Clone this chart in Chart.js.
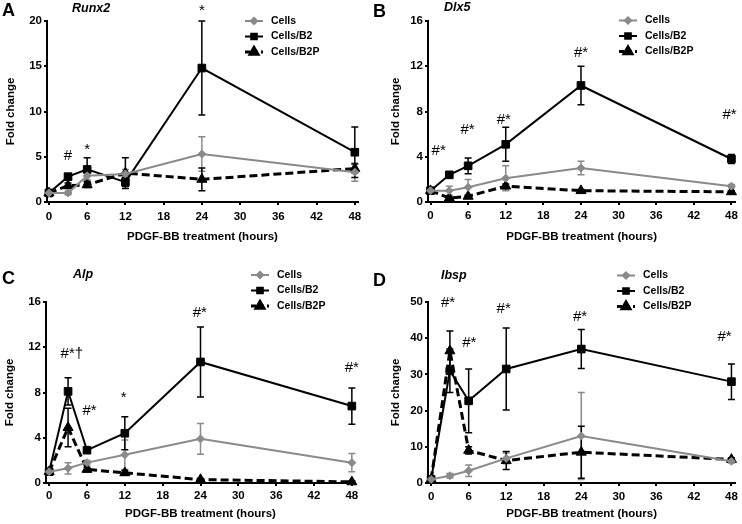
<!DOCTYPE html>
<html><head><meta charset="utf-8">
<script src="https://cdn.jsdelivr.net/npm/chart.js@4.4.0/dist/chart.umd.min.js"></script>
<style>
html,body{margin:0;padding:0;background:#fff;}
#wrap{position:relative;width:742px;height:524px;overflow:hidden;}
.panel{position:absolute;width:371px;height:262px;}
</style></head><body>
<div id="wrap">
<div class="panel" style="left:0;top:0"><canvas id="cA" width="371" height="262"></canvas></div>
<div class="panel" style="left:371px;top:0"><canvas id="cB" width="371" height="262"></canvas></div>
<div class="panel" style="left:0;top:262px"><canvas id="cC" width="371" height="262"></canvas></div>
<div class="panel" style="left:371px;top:262px"><canvas id="cD" width="371" height="262"></canvas></div>
</div>
<script>
// ---------- data ----------
const hours = [0, 3, 6, 12, 24, 48];
const xTicks = [0, 6, 12, 18, 24, 30, 36, 42, 48];
const seriesNames = ['Cells', 'Cells/B2', 'Cells/B2P'];
const xTitle = 'PDGF-BB treatment (hours)';
const yTitle = 'Fold change';
const panelLetters = ['A', 'B', 'C', 'D'];
const geneNames = ['Runx2', 'Dlx5', 'Alp', 'Ibsp'];

// Runx2
const runx2Ticks = [0, 5, 10, 15, 20];
const runx2Cells = [1.0, 1.0, 2.9, 3.1, 5.3, 3.3];
const runx2CellsSD = [0.1, 0.2, 0.4, 0.5, 1.9, 1.0];
const runx2B2 = [1.0, 2.8, 3.6, 2.2, 14.8, 5.5];
const runx2B2SD = [0.1, 0.3, 1.3, 0.5, 5.2, 2.8];
const runx2B2P = [1.0, 1.8, 1.9, 3.2, 2.5, 3.7];
const runx2B2PSD = [0.1, 0.3, 0.3, 1.7, 1.25, 0.5];
const runx2MarkText = ['#', '*', '*'];
const runx2MarkX = [3, 6, 24];
const runx2MarkY = [5.1, 5.8, 21.1];

// Dlx5
const dlx5Ticks = [0, 4, 8, 12, 16];
const dlx5Cells = [1.0, 1.0, 1.3, 2.1, 3.0, 1.4];
const dlx5CellsSD = [0.1, 0.4, 0.7, 1.1, 0.6, 0.15];
const dlx5B2 = [1.0, 2.4, 3.2, 5.1, 10.3, 3.8];
const dlx5B2SD = [0.1, 0.15, 0.7, 1.5, 1.7, 0.4];
const dlx5B2P = [1.0, 0.35, 0.5, 1.4, 1.0, 0.9];
const dlx5B2PSD = [0.1, 0.1, 0.1, 0.2, 0.1, 0.1];
const dlx5MarkText = ['#*', '#*', '#*', '#*', '#*'];
const dlx5MarkX = [1.3, 5.9, 11.7, 24, 47.7];
const dlx5MarkY = [4.5, 6.4, 7.3, 13.2, 7.7];

// Alp
const alpTicks = [0, 4, 8, 12, 16];
const alpCells = [1.0, 1.3, 1.8, 2.5, 3.9, 1.8];
const alpCellsSD = [0.1, 0.5, 0.2, 1.3, 1.35, 0.8];
const alpB2 = [1.0, 8.1, 2.9, 4.4, 10.7, 6.8];
const alpB2SD = [0.1, 1.2, 0.2, 1.45, 3.1, 1.6];
const alpB2P = [1.0, 4.9, 1.2, 0.9, 0.3, 0.1];
const alpB2PSD = [0.1, 1.7, 0.2, 0.2, 0.1, 0.1];
const alpMarkText = ['#*\u2020', '#*', '*', '#*', '#*'];
const alpMarkX = [3.6, 6.4, 11.8, 23.9, 48];
const alpMarkY = [11.4, 6.4, 7.5, 15.0, 10.2];

// Ibsp
const ibspTicks = [0, 10, 20, 30, 40, 50];
const ibspCells = [1.0, 2.0, 3.4, 6.8, 13.0, 6.0];
const ibspCellsSD = [0.2, 0.6, 1.6, 1.5, 12, 0.5];
const ibspB2 = [1.0, 31, 22.7, 31.5, 37, 28];
const ibspB2SD = [0.2, 6, 8.8, 11.3, 5.4, 4.9];
const ibspB2P = [1.0, 36.5, 9.0, 6.2, 8.5, 6.5];
const ibspB2PSD = [0.2, 5.5, 1.0, 2.5, 7.2, 0.5];
const ibspMarkText = ['#*', '#*', '#*', '#*', '#*'];
const ibspMarkX = [2.7, 6.1, 11.6, 23.8, 46.9];
const ibspMarkY = [49.8, 38.7, 48, 45.9, 40.3];

// ---------- styling / layout ----------
const FONT = "'Liberation Sans', Arial, Helvetica, sans-serif";
const GRAY = '#8a8a8a';
const W = 371, H = 262;
const seriesStyle = [
  {color: GRAY, width: 2, dash: [], point: 'rectRot', radius: 4, legRadius: 3.2},
  {color: '#000', width: 2, dash: [], point: 'rect', radius: 5.4, legRadius: 4},
  {color: '#000', width: 3, dash: [8, 4], point: 'triangle', radius: 5.8, legRadius: 4.5}
];
const layouts = [
  {left: 47, right: 358, top: 21, bottom: 202, xMin: -0.3, xMax: 48.5, yTitlePad: 4, xTickPad: 4.5, xTitlePad: 18, legTop: 21, legLeft: 245, letterY: 2, geneX: 72, geneY: 12},
  {left: 57, right: 366, top: 21, bottom: 202, xMin: -0.4, xMax: 48.6, yTitlePad: 18, xTickPad: 4, xTitlePad: 18, legTop: 20.5, legLeft: 248, letterY: 3, geneX: 73, geneY: 11},
  {left: 46, right: 355, top: 40, bottom: 221, xMin: -0.5, xMax: 48.5, yTitlePad: 3, xTickPad: 2.5, xTitlePad: 3.4, legTop: 13, legLeft: 251, letterY: 8, geneX: 73, geneY: 16},
  {left: 57, right: 366, top: 40, bottom: 221, xMin: -0.5, xMax: 48.6, yTitlePad: 18, xTickPad: 3.5, xTitlePad: 3.4, legTop: 13.5, legLeft: 246, letterY: 10, geneX: 70, geneY: 17}
];

const panels = [
  {id: 'cA', ticks: runx2Ticks, vals: [runx2Cells, runx2B2, runx2B2P], sds: [runx2CellsSD, runx2B2SD, runx2B2PSD], mt: runx2MarkText, mx: runx2MarkX, my: runx2MarkY},
  {id: 'cB', ticks: dlx5Ticks, vals: [dlx5Cells, dlx5B2, dlx5B2P], sds: [dlx5CellsSD, dlx5B2SD, dlx5B2PSD], mt: dlx5MarkText, mx: dlx5MarkX, my: dlx5MarkY},
  {id: 'cC', ticks: alpTicks, vals: [alpCells, alpB2, alpB2P], sds: [alpCellsSD, alpB2SD, alpB2PSD], mt: alpMarkText, mx: alpMarkX, my: alpMarkY},
  {id: 'cD', ticks: ibspTicks, vals: [ibspCells, ibspB2, ibspB2P], sds: [ibspCellsSD, ibspB2SD, ibspB2PSD], mt: ibspMarkText, mx: ibspMarkX, my: ibspMarkY}
];

const errorBarPlugin = {
  id: 'errbars',
  beforeDatasetsDraw(chart) {
    const ctx = chart.ctx, xs = chart.scales.x, ys = chart.scales.y;
    chart.data.datasets.forEach((ds) => {
      ctx.save();
      ctx.strokeStyle = ds.borderColor;
      ctx.lineWidth = 1.5;
      ds.data.forEach((p, j) => {
        const sd = ds.sd[j];
        const px = xs.getPixelForValue(p.x);
        const pt = ys.getPixelForValue(p.y + sd);
        const pb = ys.getPixelForValue(Math.max(0, p.y - sd));
        ctx.beginPath();
        ctx.moveTo(px, pt); ctx.lineTo(px, pb);
        ctx.moveTo(px - 3.5, pt); ctx.lineTo(px + 3.5, pt);
        ctx.moveTo(px - 3.5, pb); ctx.lineTo(px + 3.5, pb);
        ctx.stroke();
      });
      ctx.restore();
    });
  }
};

const decorPlugin = {
  id: 'decor',
  afterDraw(chart) {
    const o = chart.options.plugins.decor;
    const ctx = chart.ctx, xs = chart.scales.x, ys = chart.scales.y;
    ctx.save();
    // significance marks
    ctx.fillStyle = '#000';
    ctx.font = '15px ' + FONT;
    ctx.textAlign = 'center';
    ctx.textBaseline = 'middle';
    o.mt.forEach((t, k) => {
      ctx.fillText(t, xs.getPixelForValue(o.mx[k]), ys.getPixelForValue(o.my[k]));
    });
    // panel letter + gene
    ctx.textAlign = 'left';
    ctx.textBaseline = 'top';
    ctx.font = 'bold 18px ' + FONT;
    ctx.fillText(o.letter, 2, o.lay.letterY);
    ctx.textBaseline = 'alphabetic';
    ctx.font = 'italic bold 12.5px ' + FONT;
    ctx.fillText(o.gene, o.lay.geneX, o.lay.geneY);
    // legend
    chart.data.datasets.forEach((ds, i) => {
      const st = seriesStyle[i];
      const y = o.lay.legTop + i * 15.5;
      const x0 = o.lay.legLeft;
      ctx.save();
      ctx.strokeStyle = st.color;
      ctx.lineWidth = st.width;
      ctx.setLineDash(st.dash.length ? [5, 3] : []);
      ctx.beginPath();
      ctx.moveTo(x0, y); ctx.lineTo(x0 + 18, y);
      ctx.stroke();
      ctx.setLineDash([]);
      ctx.fillStyle = st.color;
      Chart.helpers.drawPoint(ctx, {pointStyle: st.point, radius: st.legRadius, rotation: 0, borderWidth: 1}, x0 + 9, y);
      ctx.restore();
      ctx.fillStyle = '#000';
      ctx.font = 'bold 10.5px ' + FONT;
      ctx.textAlign = 'left';
      ctx.textBaseline = 'middle';
      ctx.fillText(ds.label, x0 + 26, y);
    });
    ctx.restore();
  }
};

panels.forEach((p, pi) => {
  const lay = layouts[pi];
  const yTicks = p.ticks;
  const datasets = seriesNames.map((name, i) => {
    const st = seriesStyle[i];
    return {
      label: name,
      data: hours.map((h, j) => ({x: h, y: p.vals[i][j]})),
      sd: p.sds[i],
      borderColor: st.color,
      backgroundColor: st.color,
      pointBackgroundColor: st.color,
      pointBorderColor: st.color,
      borderWidth: st.width,
      borderDash: st.dash,
      pointStyle: st.point,
      pointRadius: st.radius,
      pointBorderWidth: 1,
      tension: 0,
      clip: false
    };
  });
  new Chart(document.getElementById(p.id), {
    type: 'line',
    data: {datasets},
    options: {
      responsive: false,
      animation: false,
      devicePixelRatio: 1,
      layout: {padding: {left: 0, top: lay.top, right: W - lay.right, bottom: 0}},
      plugins: {
        legend: {display: false},
        tooltip: {enabled: false},
        decor: {mt: p.mt, mx: p.mx, my: p.my, letter: panelLetters[pi], gene: geneNames[pi], lay}
      },
      scales: {
        x: {
          type: 'linear', min: lay.xMin, max: lay.xMax,
          afterBuildTicks: s => { s.ticks = xTicks.map(v => ({value: v})); },
          afterFit: s => { s.height = H - lay.bottom; s.paddingLeft = 0; s.paddingRight = 0; },
          grid: {display: true, drawOnChartArea: false, drawTicks: true, tickLength: 3, color: '#000', lineWidth: 2},
          border: {display: true, color: '#000', width: 2},
          ticks: {color: '#000', font: {family: FONT, size: 11.5, weight: 'bold'}, padding: lay.xTickPad, maxRotation: 0, autoSkip: false},
          title: {display: true, text: xTitle, color: '#000', font: {family: FONT, size: 11.5, weight: 'bold'}, padding: {top: 0, bottom: lay.xTitlePad}}
        },
        y: {
          type: 'linear', min: yTicks[0], max: yTicks[yTicks.length - 1],
          afterBuildTicks: s => { s.ticks = yTicks.map(v => ({value: v})); },
          afterFit: s => { s.width = lay.left; s.paddingTop = 0; s.paddingBottom = 0; },
          grid: {display: true, drawOnChartArea: false, drawTicks: true, tickLength: 3, color: '#000', lineWidth: 2},
          border: {display: true, color: '#000', width: 2},
          ticks: {color: '#000', font: {family: FONT, size: 11.5, weight: 'bold'}, padding: 2},
          title: {display: true, text: yTitle, color: '#000', font: {family: FONT, size: 11.5, weight: 'bold'}, padding: {top: lay.yTitlePad, bottom: 0}}
        }
      }
    },
    plugins: [errorBarPlugin, decorPlugin]
  });
});
</script>
</body></html>
